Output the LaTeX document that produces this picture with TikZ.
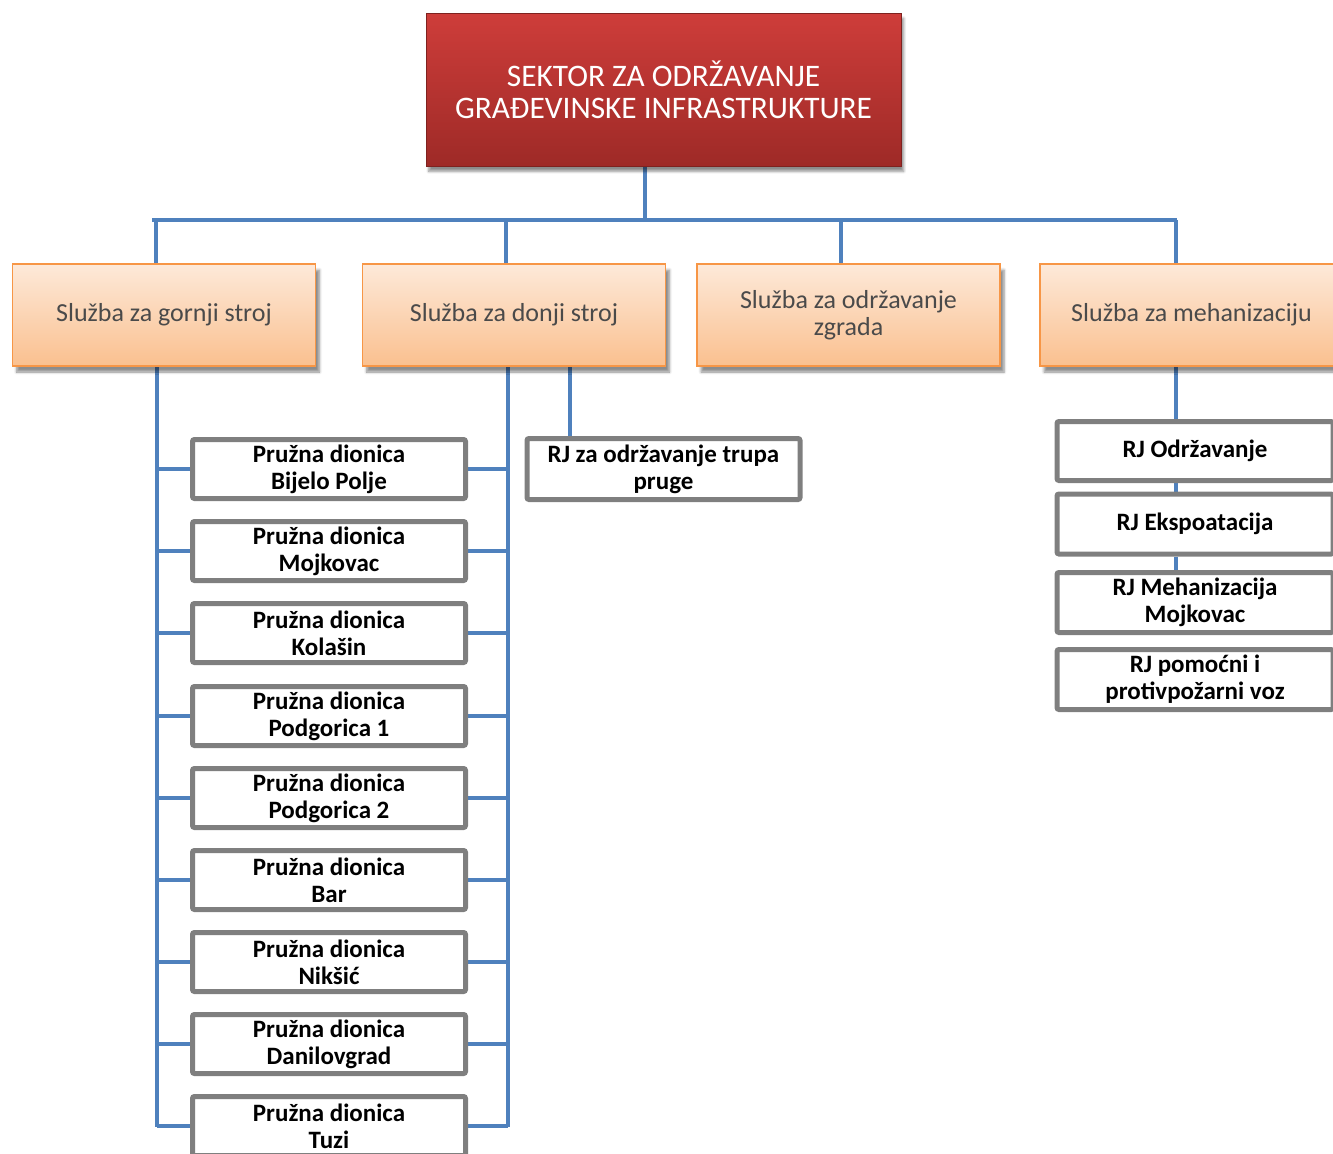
\documentclass[tikz,border=0pt]{standalone}
\usepackage{fontspec}
\setmainfont{Carlito}
\usetikzlibrary{shadows.blur}
\definecolor{conn}{HTML}{4F81BD}
\definecolor{boxgray}{HTML}{7F7F7F}
\definecolor{orborder}{HTML}{F79646}
\definecolor{ortop}{HTML}{FDE9D9}
\definecolor{orbot}{HTML}{FAC08F}
\definecolor{redtop}{HTML}{CE3D3A}
\definecolor{redbot}{HTML}{9E2A27}
\definecolor{sgray}{HTML}{4A4A4A}
\pgfdeclarelayer{bg}
\pgfsetlayers{bg,main}
\tikzset{
  titlebox/.style={rectangle, draw=redbot!80!black, line width=0.5pt, top color=redtop, bottom color=redbot,
    minimum width=356.25pt, minimum height=114.75pt, inner sep=0pt, align=center, text=white,
    font=\fontsize{23.5}{24}\selectfont,
    blur shadow={shadow xshift=2pt, shadow yshift=-4pt, shadow blur steps=6, shadow opacity=45}},
  sluzba/.style={rectangle, draw=orborder, line width=1.2pt, top color=ortop, bottom color=orbot,
    minimum width=227.25pt, minimum height=76.5pt, inner sep=0pt, align=center, text=sgray,
    font=\fontsize{19.5}{20.25}\selectfont,
    blur shadow={shadow xshift=3pt, shadow yshift=-4.5pt, shadow blur steps=6, shadow opacity=45}},
  unit/.style={rectangle, draw=boxgray, line width=3.75pt, rounded corners=1.5pt, fill=white,
    minimum width=204.75pt, minimum height=44.25pt, inner sep=0pt, align=center, text=black,
    font=\bfseries\fontsize{18.75}{20.25}\selectfont},
  link/.style={draw=conn, line width=2.4pt}
}
\begin{document}
\begin{tikzpicture}[x=0.75pt, y=-0.75pt]
\useasboundingbox (0,0) rectangle (1333,1153);
\clip (0,0) rectangle (1333,1153);
% top
\node[titlebox] (title) at (663.5,89.5) {SEKTOR ZA ODRŽAVANJE\\GRAĐEVINSKE INFRASTRUKTURE};
% services
\node[sluzba] (s1) at (164,315) {Služba za gornji stroj};
\node[sluzba] (s2) at (514,315) {Služba za donji stroj};
\node[sluzba] (s3) at (848.5,315) {Služba za održavanje\\zgrada};
\node[sluzba] (s4) at (1191.5,315) {Služba za mehanizaciju};
% track sections
\node[unit] (p1) at (329,469) {Pružna dionica\\Bijelo Polje};
\node[unit] (p2) at (329,551) {Pružna dionica\\Mojkovac};
\node[unit] (p3) at (329,633) {Pružna dionica\\Kolašin};
\node[unit] (p4) at (329,716) {Pružna dionica\\Podgorica 1};
\node[unit] (p5) at (329,798) {Pružna dionica\\Podgorica 2};
\node[unit] (p6) at (329,880) {Pružna dionica\\Bar};
\node[unit] (p7) at (329,962) {Pružna dionica\\Nikšić};
\node[unit] (p8) at (329,1044) {Pružna dionica\\Danilovgrad};
\node[unit] (p9) at (329,1126) {Pružna dionica\\Tuzi};
% RJ under donji stroj
\node[unit, minimum height=45.75pt] (t1) at (663.5,469) {RJ za održavanje trupa\\pruge};
% mechanization units
\node[unit, minimum width=207pt] (r1) at (1195,451) {RJ Održavanje};
\node[unit, minimum width=207pt, minimum height=45pt] (r2) at (1195,524) {RJ Ekspoatacija};
\node[unit, minimum width=207pt, minimum height=45pt] (r3) at (1195,602.5) {RJ Mehanizacija\\Mojkovac};
\node[unit, minimum width=207pt, minimum height=45pt] (r4) at (1195,679.5) {RJ pomoćni i\\protivpožarni voz};
% connectors
\coordinate (hub) at (645,220);
\coordinate (hL) at (152,220);
\coordinate (hR) at (1177,220);
\coordinate (d1) at (156,220);
\coordinate (d2) at (506,220);
\coordinate (d3) at (841,220);
\coordinate (d4) at (1176,220);
\coordinate (bL) at (157,1127);
\coordinate (bR) at (508,1127);
\begin{pgfonlayer}{bg}
\draw[link] (title.south -| hub) -- (hub);
\draw[link] (hL) -- (hR);
\draw[link] (d1) -- (d1 |- s1.north);
\draw[link] (d2) -- (d2 |- s2.north);
\draw[link] (d3) -- (d3 |- s3.north);
\draw[link] (d4) -- (d4 |- s4.north);
\draw[link] (s1.south -| bL) -- (bL);
\draw[link] (s2.south -| bR) -- (bR);
\foreach \n in {p1,p2,p3,p4,p5,p6,p7,p8,p9}{
  \draw[link] (\n.west -| bL) -- (\n.west);
  \draw[link] (\n.east) -- (\n.east -| bR);
}
\draw[link] (s2.south -| 570,0) -- (t1.north -| 570,0);
\draw[link] (s4.south -| 1176,0) -- (r1.north -| 1176,0);
\draw[link] (r1.south -| 1176,0) -- (r2.north -| 1176,0);
\draw[link] (r2.south -| 1176,0) -- (r3.north -| 1176,0);
\end{pgfonlayer}
\end{tikzpicture}
\end{document}
